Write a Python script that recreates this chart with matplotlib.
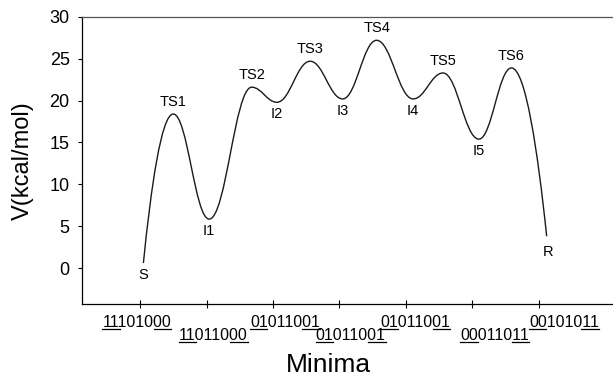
import matplotlib.pyplot as plt
from matplotlib.path import Path
from matplotlib.patches import PathPatch
from matplotlib.lines import Line2D

plt.rcParams['font.family'] = ['Liberation Sans', 'DejaVu Sans']

# stationary points along the path (position, energy)
names = ['S', 'TS1', 'I1', 'TS2', 'I2', 'TS3', 'I3', 'TS4', 'I4', 'TS5', 'I5', 'TS6', 'R']
pos = [0.05, 0.50, 1.04, 1.68, 2.06, 2.56, 3.05, 3.56, 4.11, 4.56, 5.10, 5.59, 6.12]
V = [0.6, 18.4, 5.85, 21.6, 19.8, 24.7, 20.2, 27.2, 20.2, 23.3, 15.4, 23.9, 3.8]

tick_pos = [0, 1, 2, 3, 4, 5, 6]
tick_labels = ['11101000', '11011000', '01011001', '01011001',
               '01011001', '00011011', '00101011']
label_x = [-0.05, 1.10, 2.18, 3.17, 4.14, 5.34, 6.38]

fig = plt.figure(figsize=(6.13, 3.83), dpi=100)
ax = fig.add_axes([0.134, 0.206, 0.864, 0.750])

# smooth path with horizontal tangents at the extrema
verts = [(pos[0], V[0])]
codes = [Path.MOVETO]
for i in range(len(pos) - 1):
    x0, y0, x1, y1 = pos[i], V[i], pos[i + 1], V[i + 1]
    dx = x1 - x0
    if i == 0:
        c1 = (x0 + dx * 0.25, y0 + (y1 - y0) * 0.5)
    else:
        c1 = (x0 + dx * 0.4, y0)
    if i == len(pos) - 2:
        c2 = (x1 - dx * 0.25, y1 + (y0 - y1) * 0.5)
    else:
        c2 = (x1 - dx * 0.4, y1)
    verts += [c1, c2, (x1, y1)]
    codes += [Path.CURVE4] * 3
ax.add_patch(PathPatch(Path(verts, codes), facecolor='none', edgecolor='#1a1a1a', lw=1.0))

for n, x, v in zip(names, pos, V):
    if n.startswith('TS'):
        ax.text(x, v + 0.6, n, ha='center', va='bottom', fontsize=10.5)
    elif n == 'R':
        ax.text(x + 0.02, v - 1.0, n, ha='center', va='top', fontsize=10.5)
    else:
        ax.text(x, v - 0.6, n, ha='center', va='top', fontsize=10.5)

ax.set_xlim(-0.872, 7.10)
ax.set_ylim(-4.3, 30)
ax.set_yticks([0, 5, 10, 15, 20, 25, 30])
ax.set_xticks(tick_pos)
ax.set_xticklabels([])
ax.tick_params(axis='y', labelsize=13, length=3, width=0.8, pad=6)
ax.tick_params(axis='x', direction='inout', length=6, width=0.8)
ax.spines['right'].set_visible(False)
ax.spines['top'].set_color('#555555')
for s in ['left', 'bottom', 'top']:
    ax.spines[s].set_linewidth(0.9)

ax.set_ylabel('V(kcal/mol)', fontsize=17, labelpad=11)
fig.text(0.535, 0.047, 'Minima', ha='center', va='center', fontsize=19)

texts = []
for k, (lx, lab) in enumerate(zip(label_x, tick_labels)):
    yy = -0.037 if k % 2 == 0 else -0.084
    texts.append(ax.text(lx, yy, lab, transform=ax.get_xaxis_transform(),
                         ha='center', va='top', fontsize=11.5))

# underline the first two and last two digits of each code
fig.canvas.draw()
r = fig.canvas.get_renderer()
W, H = fig.bbox.width, fig.bbox.height
for t in texts:
    bb = t.get_window_extent(r)
    cw = bb.width / len(t.get_text())
    uy = bb.y0 + 1.0
    for a, b in [(bb.x0, bb.x0 + 2 * cw), (bb.x1 - 2 * cw, bb.x1)]:
        fig.add_artist(Line2D([a / W, b / W], [uy / H, uy / H],
                              transform=fig.transFigure, color='black', lw=0.9))

fig.savefig('out.png', dpi=100)
